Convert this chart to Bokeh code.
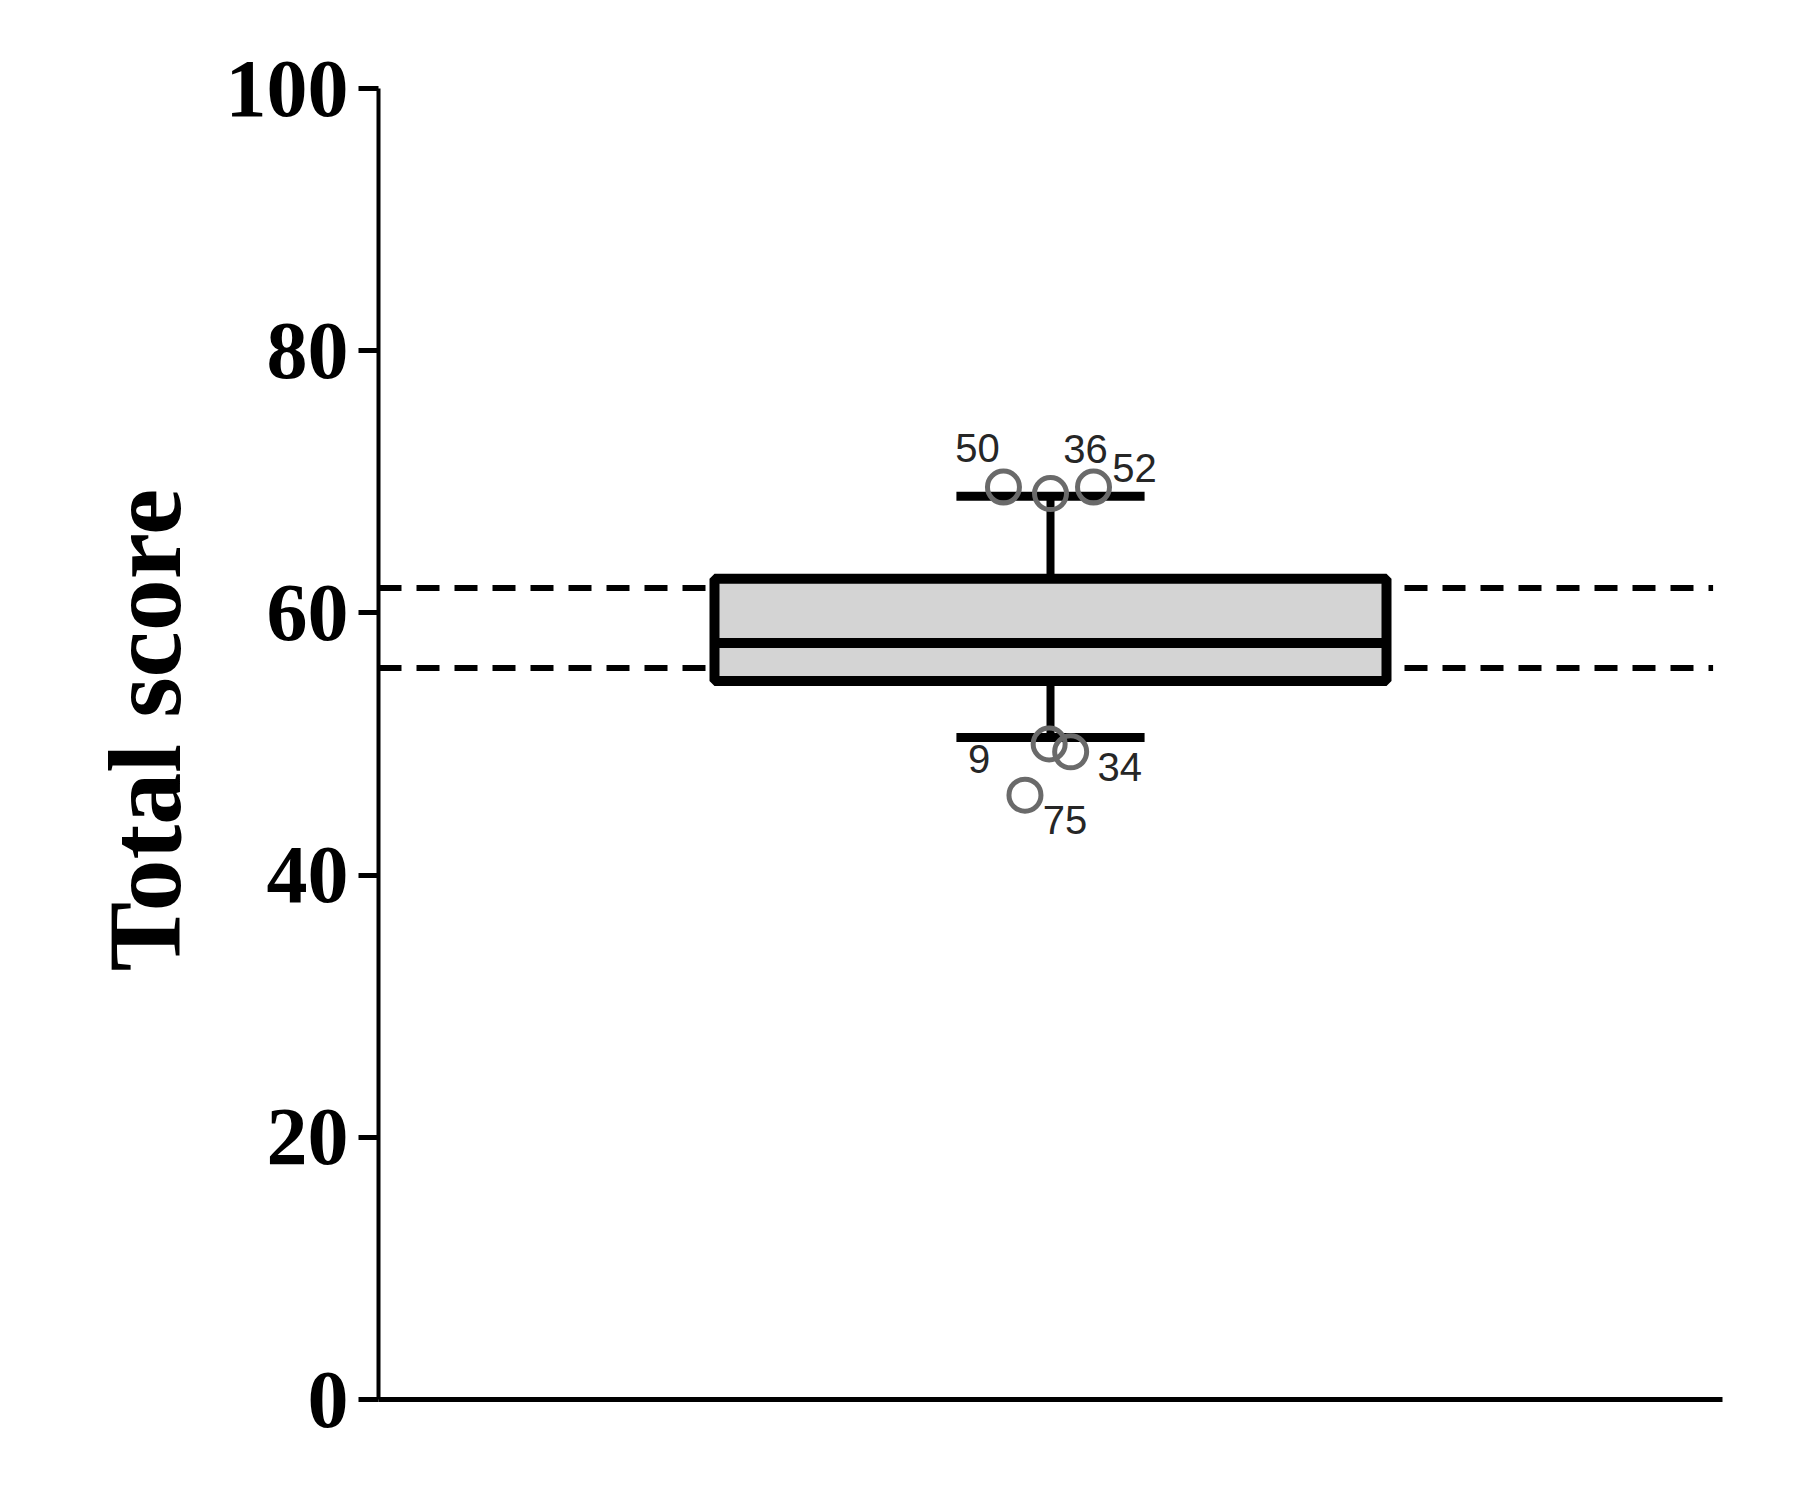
from bokeh.plotting import figure
from bokeh.layouts import row
from bokeh.models import Range1d, FixedTicker, ColumnDataSource, Div
from bokeh.core.properties import value
from bokeh.embed import file_html
from bokeh.resources import INLINE

# ---- data ----
y_ticks = [0, 20, 40, 60, 80, 100]
box_center = [5.0]
q1 = [54.8]
median = [57.7]
q3 = [62.6]
whisker_low = [50.5]
whisker_high = [68.9]
ref_lines = [61.9, 55.8]
outlier_labels = ["50", "36", "52", "9", "34", "75"]
outlier_values = [69.6, 69.1, 69.6, 50.0, 49.4, 46.1]
outlier_x = [4.65, 5.0, 5.32, 4.99, 5.15, 4.81]
label_dx = [-26, 35, 41, -70, 49, 40]
label_dy = [-39, -45, -19, 15, 15, 25]
y_title = "Total score"

H = 1475
LW = 215

# ---- vertical axis title (HTML text, rotated with CSS) ----
title_html = (
    '<div style="display:inline-block; white-space:nowrap; transform-origin:0 0; '
    'transform: translate(145px, 730px) rotate(-90deg) translate(-50%, -50%); '
    "font-family:'Liberation Serif'; font-weight:bold; font-size:104px; line-height:1; "
    'color:black;">' + y_title + '</div>'
)
title_div = Div(text=title_html, width=LW, height=H, margin=0)

# ---- main plot ----
p = figure(width=1780 - LW, height=H, output_backend="svg", toolbar_location=None,
           x_range=Range1d(0, 10), y_range=Range1d(0, 100),
           min_border_left=378 - LW, min_border_top=88, min_border_bottom=76, min_border_right=58)
p.outline_line_color = None
p.xgrid.visible = False
p.ygrid.visible = False
p.background_fill_color = "white"

ya = p.yaxis[0]
ya.ticker = FixedTicker(ticks=y_ticks)
ya.axis_line_width = 4
ya.major_tick_line_width = 5
ya.major_tick_out = 20
ya.major_tick_in = 0
ya.minor_tick_line_color = None
ya.major_label_text_font = "Liberation Serif"
ya.major_label_text_font_style = "bold"
ya.major_label_text_font_size = "82px"
ya.major_label_text_color = "black"
ya.major_label_standoff = 10

xa = p.xaxis[0]
xa.ticker = FixedTicker(ticks=[])
xa.axis_line_width = 5
xa.major_tick_line_width = 0
xa.minor_tick_line_width = 0
xa.major_label_text_font_size = "0px"

# dashed reference lines
p.segment(x0=[0] * len(ref_lines), x1=[9.93] * len(ref_lines), y0=ref_lines, y1=ref_lines,
          line_color="black", line_width=6, line_dash="23 15")

half_w = 2.5
cap_w = 0.7
c = box_center[0]
p.segment(x0=box_center, x1=box_center, y0=q3, y1=whisker_high, line_color="black", line_width=8)
p.segment(x0=box_center, x1=box_center, y0=whisker_low, y1=q1, line_color="black", line_width=8)
p.segment(x0=[c - cap_w, c - cap_w], x1=[c + cap_w, c + cap_w],
          y0=[whisker_high[0], whisker_low[0]], y1=[whisker_high[0], whisker_low[0]],
          line_color="black", line_width=9)
p.quad(left=[c - half_w], right=[c + half_w], bottom=q1, top=q3,
       fill_color="#d4d4d4", line_color="black", line_width=10)
p.segment(x0=[c - half_w], x1=[c + half_w], y0=median, y1=median, line_color="black", line_width=10)

src = ColumnDataSource(dict(x=outlier_x, y=outlier_values, t=outlier_labels, dx=label_dx, dy=label_dy))
p.scatter(x="x", y="y", source=src, marker="circle", size=32, fill_alpha=0,
          line_color="#6a6a6a", line_width=5)
p.text(x="x", y="y", text="t", source=src, x_offset="dx", y_offset="dy",
       text_font=value("Liberation Sans"), text_font_size="40px", text_color="#262626",
       text_align="center", text_baseline="middle")

layout = row(title_div, p, spacing=0)
open("out.html", "w").write(file_html(layout, INLINE))
